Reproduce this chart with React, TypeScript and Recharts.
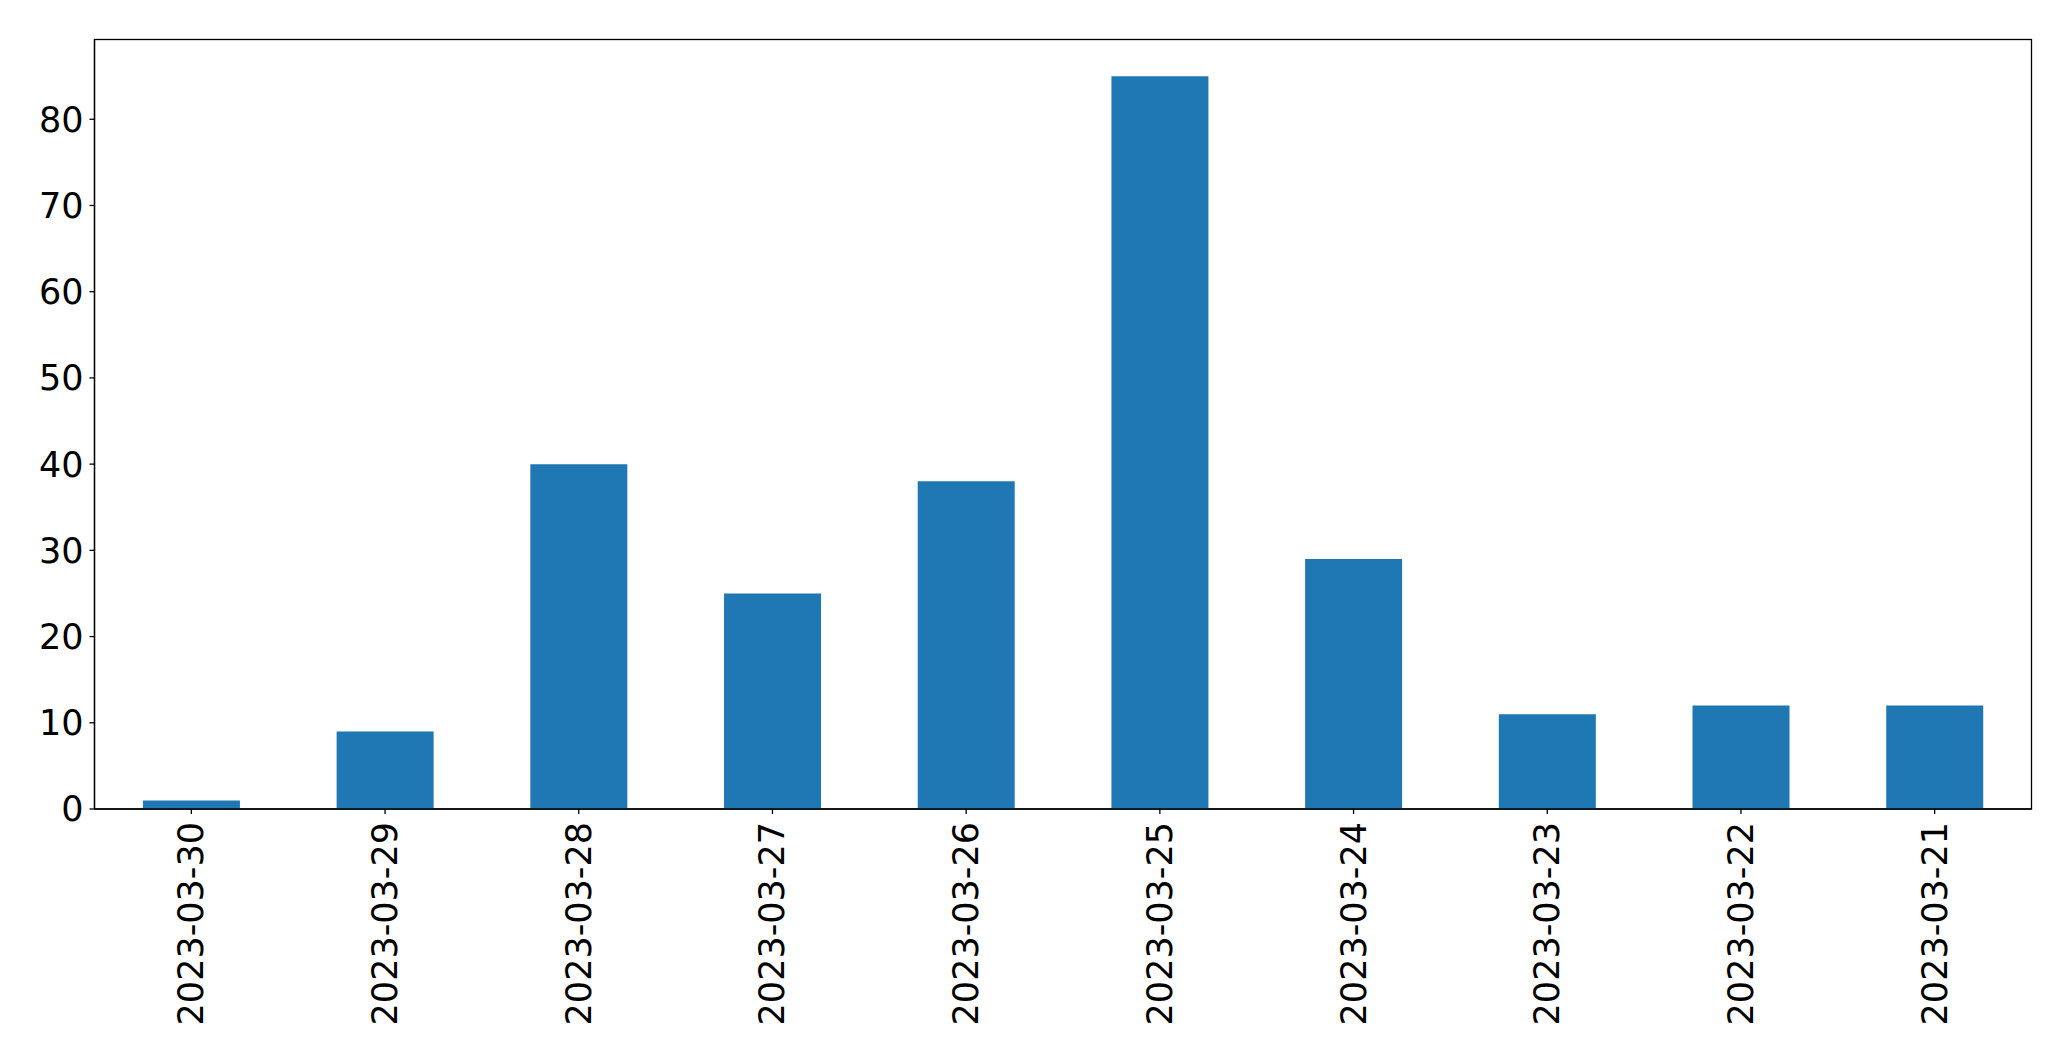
import React from 'react';
import { BarChart, Bar, XAxis, YAxis, usePlotArea } from 'recharts';

const dates = [
  '2023-03-30', '2023-03-29', '2023-03-28', '2023-03-27', '2023-03-26',
  '2023-03-25', '2023-03-24', '2023-03-23', '2023-03-22', '2023-03-21',
];
const counts = [1, 9, 40, 25, 38, 85, 29, 11, 12, 12];
const yTicks = [0, 10, 20, 30, 40, 50, 60, 70, 80];

const data = dates.map((d, i) => ({ date: d, count: counts[i] }));

const FONT = '"DejaVu Sans", sans-serif';
const FONT_SIZE = 35;

// draws the four spines like matplotlib
const Frame = () => {
  const area = usePlotArea();
  if (!area) return null;
  return (
    <rect
      x={area.x}
      y={area.y}
      width={area.width}
      height={area.height}
      fill="none"
      stroke="#000"
      strokeWidth={1.3}
    />
  );
};

const DateTick = (props: any) => {
  const { x, y, payload } = props;
  return (
    <text
      transform={`translate(${x}, ${y + 8}) rotate(-90)`}
      textAnchor="end"
      dominantBaseline="central"
      fill="#000"
      fontSize={FONT_SIZE}
      fontFamily={FONT}
    >
      {payload.value}
    </text>
  );
};

export default function App() {
  return (
    <div style={{ position: 'absolute', left: 0, top: 0, background: '#fff' }}>
      <BarChart
        width={2071}
        height={1061}
        data={data}
        margin={{ top: 39.5, right: 39.5, left: 0, bottom: 0 }}
        barCategoryGap="25%"
      >
        <XAxis
          dataKey="date"
          height={252}
          interval={0}
          tickSize={5}
          tickMargin={0}
          axisLine={{ stroke: '#000', strokeWidth: 1.3 }}
          tickLine={{ stroke: '#000', strokeWidth: 1.3 }}
          tick={<DateTick />}
        />
        <YAxis
          width={94.5}
          domain={[0, 89.25]}
          ticks={yTicks}
          interval={0}
          tickSize={5}
          tickMargin={6}
          axisLine={{ stroke: '#000', strokeWidth: 1.3 }}
          tickLine={{ stroke: '#000', strokeWidth: 1.3 }}
          tick={{ fill: '#000', fontSize: FONT_SIZE, fontFamily: FONT }}
        />
        <Bar dataKey="count" fill="#1f77b4" isAnimationActive={false} />
        <Frame />
      </BarChart>
    </div>
  );
}
